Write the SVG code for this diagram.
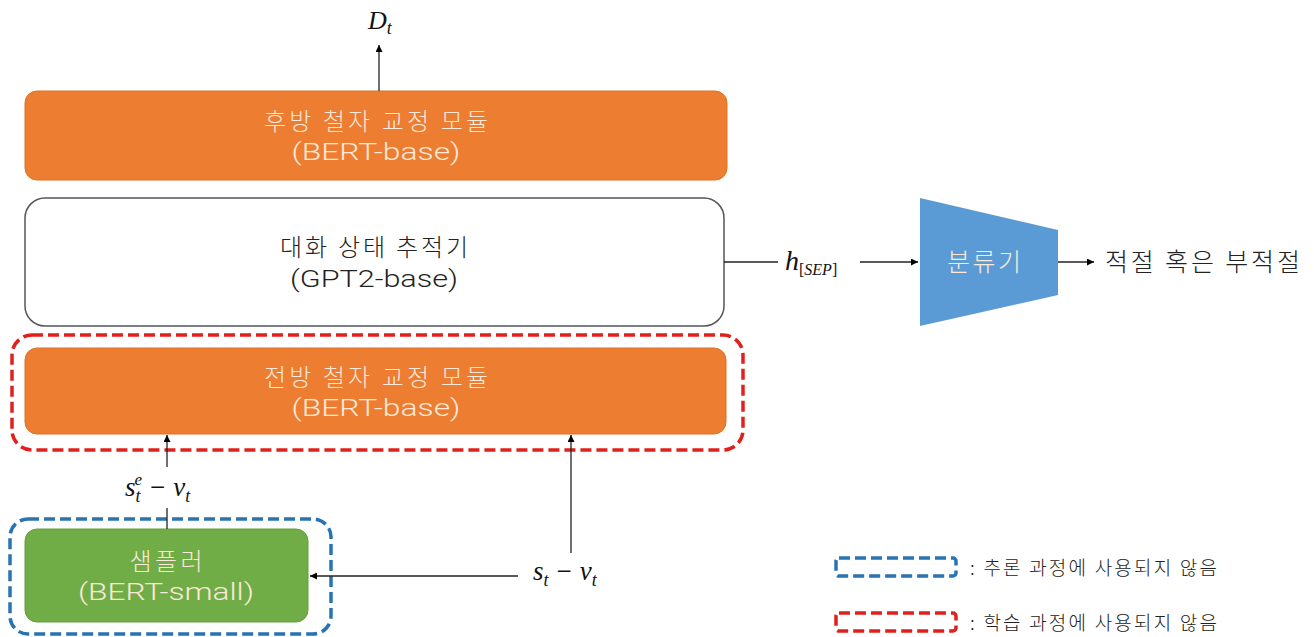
<svg xmlns="http://www.w3.org/2000/svg" width="1314" height="637" viewBox="0 0 1314 637">
<defs>
<marker id="arr" viewBox="0 0 10 10" refX="10" refY="5" markerWidth="7" markerHeight="7" orient="auto" markerUnits="userSpaceOnUse">
<path d="M0,0 L10,5 L0,10 z" fill="#000"/>
</marker>
<style>
.kr{font-family:"Noto Sans CJK KR","Noto Sans",sans-serif;font-weight:300}
.lat{font-family:Roboto,"Noto Sans",sans-serif;font-weight:300}
.lt{fill:#FBE9DA}
.dk{fill:#222}
.math{font-family:"Liberation Serif","DejaVu Serif",serif;font-style:italic;fill:#111}
.mathr{font-family:"Liberation Serif","DejaVu Serif",serif;font-style:normal;fill:#111}
.conn{stroke:#222;stroke-width:1.3;fill:none}
.dash{fill:none;stroke-width:3.5;stroke-dasharray:11 5}
</style>
</defs>
<rect width="1314" height="637" fill="#fff"/>

<g id="backward-corrector">
<rect x="25" y="91" width="702" height="89" rx="12" fill="#ED7D31" stroke="#E07020" stroke-width="1"/>
<text class="kr lt" x="376" y="130" font-size="24" text-anchor="middle" textLength="224" lengthAdjust="spacing">후방 철자 교정 모듈</text>
<text class="lat lt" x="376" y="160" font-size="23" text-anchor="middle" textLength="169" lengthAdjust="spacingAndGlyphs">(BERT-base)</text>
</g>

<g id="dst">
<rect x="25" y="198" width="699" height="128" rx="20" fill="#fff" stroke="#555" stroke-width="1.5"/>
<text class="kr dk" x="374" y="256" font-size="24" text-anchor="middle" textLength="188" lengthAdjust="spacing">대화 상태 추적기</text>
<text class="lat dk" x="374" y="287" font-size="23" text-anchor="middle" textLength="168" lengthAdjust="spacingAndGlyphs">(GPT2-base)</text>
</g>

<g id="forward-corrector">
<rect x="25" y="348" width="701" height="86" rx="12" fill="#ED7D31" stroke="#E07020" stroke-width="1"/>
<text class="kr lt" x="376" y="386" font-size="24" text-anchor="middle" textLength="224" lengthAdjust="spacing">전방 철자 교정 모듈</text>
<text class="lat lt" x="376" y="416" font-size="23" text-anchor="middle" textLength="169" lengthAdjust="spacingAndGlyphs">(BERT-base)</text>
</g>

<g id="training-box">
<rect x="12" y="335" width="731" height="115" rx="20" class="dash" stroke="#E0201C"/>
</g>

<g id="sampler">
<rect x="25" y="529" width="283" height="93" rx="12" fill="#70AD47" stroke="#62A03C" stroke-width="1"/>
<text class="kr lt" x="166" y="570" font-size="24" text-anchor="middle" textLength="73" lengthAdjust="spacing">샘플러</text>
<text class="lat lt" x="166" y="600" font-size="23" text-anchor="middle" textLength="176" lengthAdjust="spacingAndGlyphs">(BERT-small)</text>
</g>

<g id="inference-box">
<rect x="10" y="519" width="321" height="115" rx="18" class="dash" stroke="#2874B2"/>
</g>

<g id="classifier">
<polygon points="920,198 1058,230 1058,295 920,326" fill="#5B9BD5"/>
<text class="kr lt" x="984" y="271" font-size="25" text-anchor="middle" textLength="74" lengthAdjust="spacing">분류기</text>
</g>

<g id="connectors">
<line class="conn" x1="379" y1="91" x2="379" y2="45" marker-end="url(#arr)"/>
<line class="conn" x1="724" y1="262" x2="778" y2="262"/>
<line class="conn" x1="860" y1="262" x2="918" y2="262" marker-end="url(#arr)"/>
<line class="conn" x1="1058" y1="262" x2="1094" y2="262" marker-end="url(#arr)"/>
<line class="conn" x1="167" y1="467" x2="167" y2="435" marker-end="url(#arr)"/>
<line class="conn" x1="167" y1="529" x2="167" y2="508"/>
<line class="conn" x1="571" y1="553" x2="571" y2="435" marker-end="url(#arr)"/>
<line class="conn" x1="518" y1="576" x2="310" y2="576" marker-end="url(#arr)"/>
</g>

<g id="labels">
<text class="math" x="368" y="29" font-size="26">D<tspan font-size="18" dy="5">t</tspan></text>
<text class="math" x="785" y="270" font-size="28">h<tspan font-size="16" dy="5" class="mathr">[</tspan><tspan font-size="16">SEP</tspan><tspan font-size="16" class="mathr">]</tspan></text>
<text class="kr dk" x="1105" y="271" font-size="25" textLength="195" lengthAdjust="spacing">적절 혹은 부적절</text>
<text class="math" x="125" y="496" font-size="27">s<tspan font-size="18" dy="6">t</tspan><tspan font-size="17" dx="-6" dy="-17">e</tspan><tspan class="mathr" dy="11" dx="8">−</tspan><tspan dx="8">v</tspan><tspan font-size="18" dy="6">t</tspan></text>
<text class="math" x="533" y="580" font-size="27">s<tspan font-size="18" dy="6">t</tspan><tspan class="mathr" dy="-6" dx="8">−</tspan><tspan dx="8">v</tspan><tspan font-size="18" dy="6">t</tspan></text>
</g>

<g id="legend">
<rect x="836" y="558" width="120" height="18" rx="3" class="dash" stroke="#2874B2" stroke-width="3"/>
<text class="kr dk" x="970" y="575" font-size="19" textLength="247" lengthAdjust="spacing">: 추론 과정에 사용되지 않음</text>
<rect x="836" y="613" width="120" height="18" rx="3" class="dash" stroke="#E0201C" stroke-width="3"/>
<text class="kr dk" x="970" y="630" font-size="19" textLength="247" lengthAdjust="spacing">: 학습 과정에 사용되지 않음</text>
</g>
</svg>
